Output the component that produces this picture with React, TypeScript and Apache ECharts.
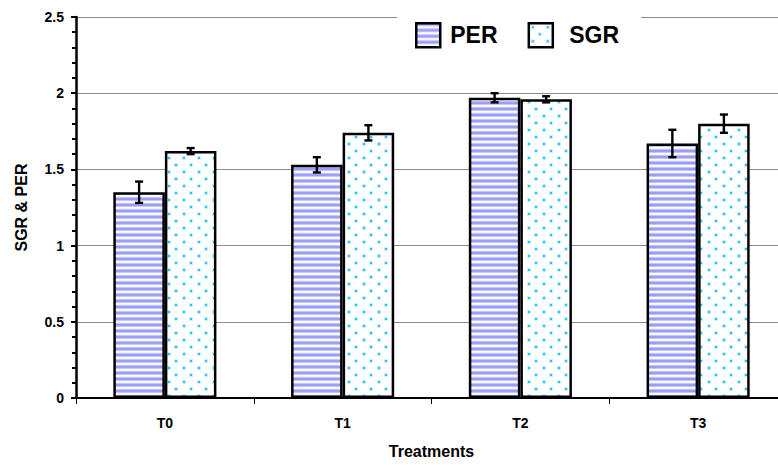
import React, { useEffect, useRef } from "react";
import * as echarts from "echarts";

const categories = ["T0", "T1", "T2", "T3"];
const perValues = [1.35, 1.53, 1.97, 1.67];
const perErrors = [0.07, 0.05, 0.03, 0.09];
const sgrValues = [1.62, 1.74, 1.96, 1.8];
const sgrErrors = [0.02, 0.05, 0.02, 0.06];
const seriesNames = ["PER", "SGR"];

const FONT = "'Liberation Sans', Arial, sans-serif";
const BAR_FRAC = 0.29;

function makePerPattern() {
  const c = document.createElement("canvas");
  c.width = 8;
  c.height = 6;
  const ctx = c.getContext("2d")!;
  const rows = ["#9c9cfa", "#9c9cfa", "#c4c4fc", "#ffffff", "#f4f4ff", "#c4c4fc"];
  rows.forEach((col, i) => {
    ctx.fillStyle = col;
    ctx.fillRect(0, i, 8, 1);
  });
  return c;
}

function makeSgrPattern() {
  const c = document.createElement("canvas");
  c.width = 15;
  c.height = 14;
  const ctx = c.getContext("2d")!;
  ctx.fillStyle = "#ffffff";
  ctx.fillRect(0, 0, 15, 14);
  ctx.fillStyle = "#c8f1ff";
  ctx.fillRect(2, 2, 4, 4);
  ctx.fillRect(9, 9, 4, 4);
  ctx.fillStyle = "#22c4f2";
  ctx.fillRect(3, 3, 2, 2);
  ctx.fillRect(10, 10, 2, 2);
  return c;
}

export default function App() {
  const ref = useRef<HTMLDivElement>(null);

  useEffect(() => {
    if (!ref.current) return;
    const chart = echarts.init(ref.current, null, { renderer: "svg" });

    const perPat = makePerPattern();
    const sgrPat = makeSgrPattern();
    const perColor: any = { image: perPat, repeat: "repeat", imageWidth: 8, imageHeight: 6 };
    const sgrColor: any = { image: sgrPat, repeat: "repeat", imageWidth: 15, imageHeight: 14 };

    const errData = (vals: number[], errs: number[]) =>
      vals.map((v, i) => [i, v - errs[i], v + errs[i]]);

    const makeErrRender = (side: number) => (params: any, api: any) => {
      const idx = api.value(0);
      const lo = api.coord([idx, api.value(1)]);
      const hi = api.coord([idx, api.value(2)]);
      const bw = api.size([1, 0])[0] * BAR_FRAC;
      const x = lo[0] + side * bw / 2;
      const cap = 4;
      const style = { stroke: "#000", lineWidth: 2.4 };
      return {
        type: "group",
        children: [
          { type: "line", shape: { x1: x, y1: lo[1], x2: x, y2: hi[1] }, style },
          { type: "line", shape: { x1: x - cap, y1: lo[1], x2: x + cap, y2: lo[1] }, style },
          { type: "line", shape: { x1: x - cap, y1: hi[1], x2: x + cap, y2: hi[1] }, style },
        ],
      };
    };

    chart.setOption({
      animation: false,
      backgroundColor: "#ffffff",
      textStyle: { fontFamily: FONT, color: "#000" },
      grid: { left: 76, top: 17, bottom: 67, right: 13, containLabel: false },
      legend: {
        data: seriesNames,
        left: 397,
        top: 12,
        padding: [10, 22, 10, 18],
        backgroundColor: "#ffffff",
        itemWidth: 24,
        itemHeight: 24,
        itemGap: 30,
        icon: "rect",
        itemStyle: { borderColor: "#000", borderWidth: 2.5 },
        formatter: (n: string) => (n === "SGR" ? " " + n : n),
        textStyle: {
          fontFamily: FONT,
          fontWeight: "bold",
          fontSize: 23,
          color: "#000",
          padding: [0, 0, 0, 5],
        },
      },
      xAxis: {
        type: "category",
        data: categories,
        name: "Treatments",
        nameLocation: "middle",
        nameGap: 45,
        nameTextStyle: { fontFamily: FONT, fontWeight: "bold", fontSize: 16, color: "#000" },
        axisLine: { lineStyle: { color: "#000", width: 2 } },
        axisTick: { show: true, length: 6, lineStyle: { color: "#000", width: 1 } },
        axisLabel: { margin: 18, fontFamily: FONT, fontWeight: "bold", fontSize: 14, color: "#000" },
      },
      yAxis: {
        type: "value",
        min: 0,
        max: 2.5,
        interval: 0.5,
        name: "SGR & PER",
        nameLocation: "middle",
        nameGap: 47,
        nameTextStyle: { fontFamily: FONT, fontWeight: "bold", fontSize: 16, color: "#000" },
        axisLine: { show: true, lineStyle: { color: "#000", width: 2.5 } },
        axisTick: { show: true, length: 5, lineStyle: { color: "#000", width: 2 } },
        minorTick: { show: true, splitNumber: 5, length: 4, lineStyle: { color: "#000", width: 2 } },
        splitLine: { show: true, lineStyle: { color: "#8c8c8c", width: 1 } },
        axisLabel: {
          margin: 12,
          fontFamily: FONT,
          fontWeight: "bold",
          fontSize: 14,
          color: "#000",
          formatter: (v: number) => String(v),
        },
      },
      series: [
        {
          name: "PER",
          type: "bar",
          data: perValues,
          barWidth: BAR_FRAC * 100 + "%",
          barGap: "0%",
          itemStyle: { color: perColor, borderColor: "#000", borderWidth: 2.5 },
          z: 2,
        },
        {
          name: "SGR",
          type: "bar",
          data: sgrValues,
          barWidth: BAR_FRAC * 100 + "%",
          barGap: "0%",
          itemStyle: { color: sgrColor, borderColor: "#000", borderWidth: 2.5 },
          z: 2,
        },
        {
          name: "PER err",
          type: "custom",
          data: errData(perValues, perErrors),
          encode: { x: 0, y: [1, 2] },
          renderItem: makeErrRender(-1),
          z: 5,
          silent: true,
        },
        {
          name: "SGR err",
          type: "custom",
          data: errData(sgrValues, sgrErrors),
          encode: { x: 0, y: [1, 2] },
          renderItem: makeErrRender(1),
          z: 5,
          silent: true,
        },
      ],
    });

    return () => chart.dispose();
  }, []);

  return (
    <div
      style={{
        position: "fixed",
        left: 0,
        top: 0,
        width: 778,
        height: 465,
        overflow: "hidden",
        background: "#fff",
      }}
    >
      <div ref={ref} style={{ width: 800, height: 465 }} />
    </div>
  );
}
